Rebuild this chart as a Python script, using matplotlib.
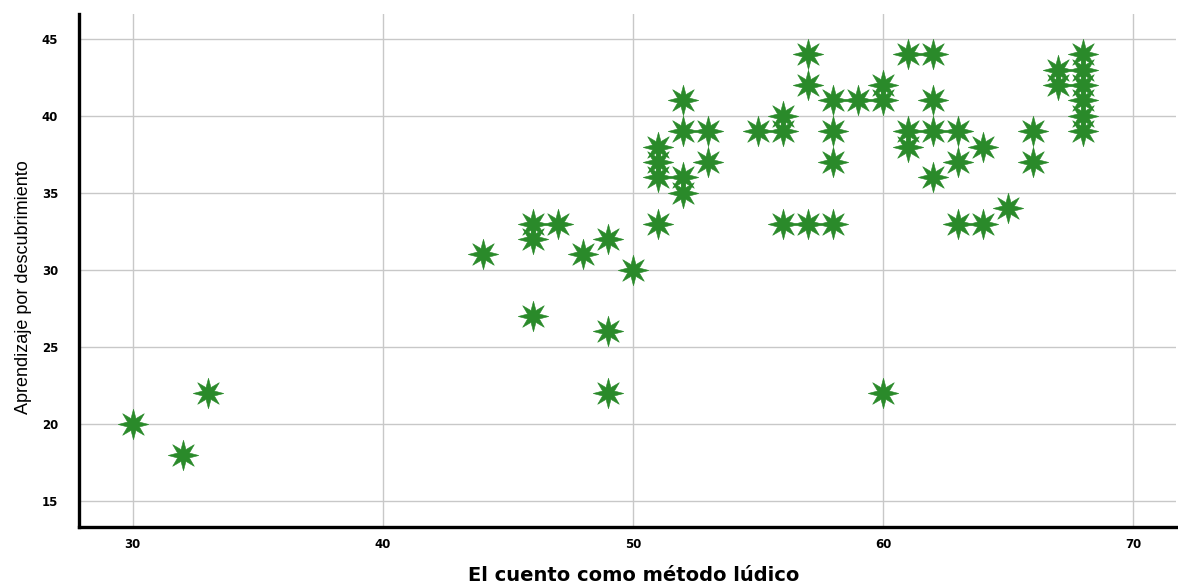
import matplotlib
matplotlib.use("Agg")
import matplotlib.pyplot as plt
from matplotlib.path import Path
import numpy as np

# El cuento como método lúdico (x) vs Aprendizaje por descubrimiento (y)
cuento = [30, 32, 33,
          44, 46, 46, 46, 47, 48, 49, 49, 49, 50,
          51, 51, 51, 51, 52, 52, 52, 52, 53, 53,
          55, 56, 56, 56, 57, 57, 57, 58, 58, 58, 58, 59, 60, 60, 60,
          61, 61, 61, 62, 62, 62, 62, 63, 63, 63, 64, 64, 65, 66, 66,
          67, 67, 68, 68, 68, 68, 68, 68]
aprendizaje = [20, 18, 22,
               31, 33, 32, 27, 33, 31, 32, 26, 22, 30,
               38, 37, 36, 33, 41, 39, 36, 35, 39, 37,
               39, 40, 39, 33, 44, 42, 33, 41, 39, 37, 33, 41, 42, 41, 22,
               44, 39, 38, 44, 41, 39, 36, 39, 37, 33, 38, 33, 34, 39, 37,
               43, 42, 44, 43, 42, 41, 40, 39]

x_ticks = [30, 40, 50, 60, 70]
y_ticks = [15, 20, 25, 30, 35, 40, 45]

# 8 pointed star
ang = np.pi / 2 + np.arange(16) * np.pi / 8
rad = np.where(np.arange(16) % 2 == 0, 1.0, 0.42)
verts = np.column_stack([rad * np.cos(ang), rad * np.sin(ang)])
verts = np.vstack([verts, verts[:1]])
star = Path(verts, closed=True)

fig = plt.figure(figsize=(11.78, 5.85), dpi=100)
ax = fig.add_axes([0.067, 0.099, 0.931, 0.877])

ax.plot(cuento, aprendizaje, linestyle="none", marker=star, markersize=22,
        color="#2a8a2a", markeredgecolor="#2a8a2a", markeredgewidth=0.4, zorder=3)

ax.set_xlim(27.85, 71.7)
ax.set_ylim(13.3, 46.6)
ax.set_xticks(x_ticks)
ax.set_yticks(y_ticks)
ax.grid(True, color="#c8c8c8", linewidth=1.0)
ax.set_axisbelow(True)

for s in ["top", "right"]:
    ax.spines[s].set_visible(False)
for s in ["left", "bottom"]:
    ax.spines[s].set_linewidth(2.4)
    ax.spines[s].set_color("black")

ax.tick_params(axis="both", length=0, labelsize=8.5)
ax.tick_params(axis="y", pad=15)
ax.tick_params(axis="x", pad=8)
for lab in ax.get_xticklabels() + ax.get_yticklabels():
    lab.set_fontweight("bold")

# x label sits near the bottom edge
fig.text(0.538, 0.006, "El cuento como método lúdico", fontsize=14, fontweight="bold",
         ha="center", va="baseline")
ax.set_ylabel("Aprendizaje por descubrimiento", fontsize=13,
              family=["Liberation Sans Narrow", "Liberation Sans", "DejaVu Sans"])
ax.yaxis.set_label_coords(-0.043, 0.468)

fig.savefig("out.png", dpi=100)
